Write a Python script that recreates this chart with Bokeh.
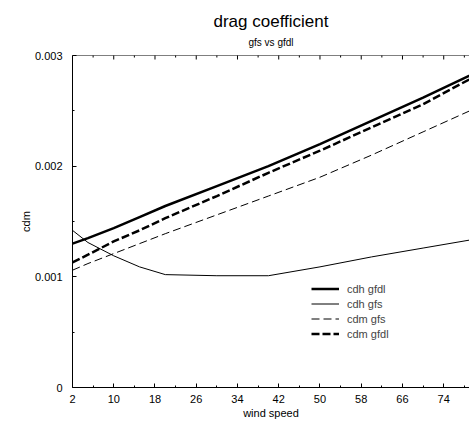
from bokeh.plotting import figure
from bokeh.models import (LinearAxis, FixedTicker, Range1d, Title, Legend, LegendItem, Span)
from bokeh.embed import file_html
from bokeh.resources import INLINE

# ---- data ----
wind_speed = [2, 5, 10, 15, 20, 30, 40, 50, 60, 70, 80]
cdh_gfdl = [0.00130, 0.00135, 0.00144, 0.00154, 0.00164, 0.00182, 0.00200, 0.00220, 0.00241, 0.00262, 0.00284]
cdh_gfs = [0.00142, 0.00131, 0.00119, 0.00109, 0.00102, 0.00101, 0.00101, 0.00109, 0.00118, 0.00126, 0.00134]
cdm_gfs = [0.00106, 0.00112, 0.00121, 0.00130, 0.00139, 0.00156, 0.00173, 0.00190, 0.00210, 0.00231, 0.00252]
cdm_gfdl = [0.00113, 0.00120, 0.00132, 0.00142, 0.00153, 0.00173, 0.00194, 0.00214, 0.00235, 0.00256, 0.00281]

x_major = [2, 10, 18, 26, 34, 42, 50, 58, 66, 74]
x_minor = [6, 14, 22, 30, 38, 46, 54, 62, 70, 78]
y_major = [0, 0.001, 0.002, 0.003]
y_minor = [0.0005, 0.0015, 0.0025]
y_labels = {0: "0", 0.001: "0.001", 0.002: "0.002", 0.003: "0.003"}
y_top = 0.003

FONT = "Liberation Sans"

p = figure(width=469, height=421, output_backend="svg", toolbar_location=None,
           x_range=Range1d(2, 79), y_range=Range1d(0, y_top),
           x_axis_location=None, y_axis_location=None,
           min_border_left=72, min_border_right=0, min_border_bottom=33, min_border_top=55)
p.outline_line_color = None
p.xgrid.visible = False
p.ygrid.visible = False
p.background_fill_color = "white"

def style_axis(ax):
    ax.major_tick_in = 4
    ax.major_tick_out = 0
    ax.minor_tick_in = 2
    ax.minor_tick_out = 0
    ax.axis_line_color = "black"
    ax.major_tick_line_color = "black"
    ax.minor_tick_line_color = "black"
    ax.major_label_text_font = FONT
    ax.major_label_text_font_size = "11px"
    ax.major_label_text_color = "black"
    ax.axis_label_text_font = FONT
    ax.axis_label_text_font_size = "11px"
    ax.axis_label_text_font_style = "normal"
    ax.axis_label_text_color = "black"

xb = LinearAxis(ticker=FixedTicker(ticks=x_major, minor_ticks=x_minor), axis_label="wind speed")
style_axis(xb)
xb.major_label_standoff = 7
xb.axis_label_standoff = 1
p.add_layout(xb, "below")

yl = LinearAxis(ticker=FixedTicker(ticks=y_major, minor_ticks=y_minor), axis_label="cdm")
style_axis(yl)
yl.major_label_overrides = y_labels
yl.major_label_standoff = 10
yl.axis_label_standoff = 0
p.add_layout(yl, "left")

# top border with inward ticks
p.add_layout(Span(location=y_top, dimension="width", line_color="black", line_width=1))
p.scatter(x_major, [y_top] * len(x_major), marker="dash", angle=1.5708, size=8,
          line_color="black", line_width=1)
p.scatter(x_minor, [y_top] * len(x_minor), marker="dash", angle=1.5708, size=4,
          line_color="black", line_width=1)

sub = Title(text="gfs vs gfdl", align="center", vertical_align="bottom", text_font=FONT,
            text_font_size="10px", text_font_style="normal", text_color="black", standoff=4,
            padding=dict(top=0, right=0, bottom=6, left=0))
p.add_layout(sub, "above")
main = Title(text="drag coefficient", align="center", vertical_align="bottom", text_font=FONT,
             text_font_size="17px", text_font_style="normal", text_color="black", standoff=4)
p.add_layout(main, "above")

r1 = p.line(wind_speed, cdh_gfdl, line_color="black", line_width=2.5)
r2 = p.line(wind_speed, cdh_gfs, line_color="black", line_width=1)
r3 = p.line(wind_speed, cdm_gfs, line_color="black", line_width=1, line_dash="8 4")
r4 = p.line(wind_speed, cdm_gfdl, line_color="black", line_width=2.5, line_dash="8 3")

legend = Legend(items=[LegendItem(label="cdh gfdl", renderers=[r1]),
                       LegendItem(label="cdh gfs", renderers=[r2]),
                       LegendItem(label="cdm gfs", renderers=[r3]),
                       LegendItem(label="cdm gfdl", renderers=[r4])],
                location=(239, 46), padding=0, spacing=0, margin=0,
                border_line_color=None, background_fill_alpha=0,
                label_text_font=FONT, label_text_font_size="11px",
                label_height=15, glyph_height=15, glyph_width=28, label_standoff=8)
p.add_layout(legend, "center")

open("out.html", "w").write(file_html(p, INLINE))
